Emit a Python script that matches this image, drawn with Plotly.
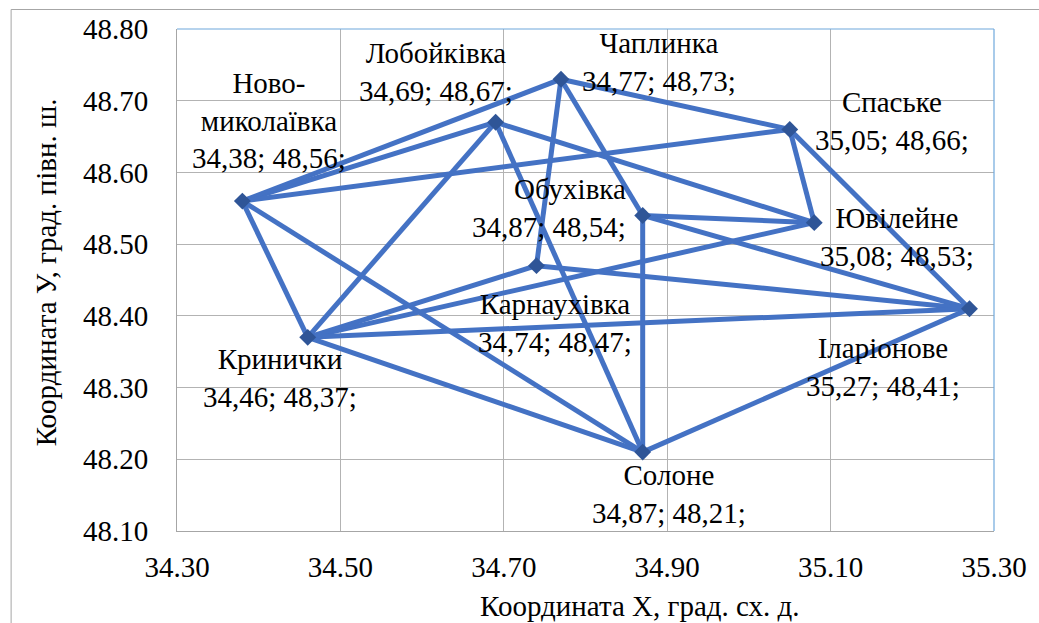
import plotly.graph_objects as go

# Settlements and their coordinates (longitude X, latitude Y)
names = ["Ново-миколаївка", "Лобойківка", "Чаплинка", "Спаське", "Обухівка",
         "Ювілейне", "Карнаухівка", "Кринички", "Іларіонове", "Солоне"]
label_names = ["Ново-<br>миколаївка", "Лобойківка", "Чаплинка", "Спаське", "Обухівка",
               "Ювілейне", "Карнаухівка", "Кринички", "Іларіонове", "Солоне"]
lon = [34.38, 34.69, 34.77, 35.05, 34.87, 35.08, 34.74, 34.46, 35.27, 34.87]
lat = [48.56, 48.67, 48.73, 48.66, 48.54, 48.53, 48.47, 48.37, 48.41, 48.21]

# Road links between settlements (pairs of names)
links = [
    ("Ново-миколаївка", "Лобойківка"),
    ("Ново-миколаївка", "Чаплинка"),
    ("Ново-миколаївка", "Спаське"),
    ("Ново-миколаївка", "Кринички"),
    ("Ново-миколаївка", "Солоне"),
    ("Лобойківка", "Кринички"),
    ("Лобойківка", "Ювілейне"),
    ("Лобойківка", "Солоне"),
    ("Чаплинка", "Спаське"),
    ("Чаплинка", "Карнаухівка"),
    ("Чаплинка", "Обухівка"),
    ("Спаське", "Ювілейне"),
    ("Спаське", "Іларіонове"),
    ("Обухівка", "Ювілейне"),
    ("Обухівка", "Іларіонове"),
    ("Обухівка", "Солоне"),
    ("Карнаухівка", "Іларіонове"),
    ("Кринички", "Ювілейне"),
    ("Кринички", "Карнаухівка"),
    ("Кринички", "Іларіонове"),
    ("Кринички", "Солоне"),
    ("Солоне", "Іларіонове"),
]

x_ticks = [34.30, 34.50, 34.70, 34.90, 35.10, 35.30]
y_ticks = [48.10, 48.20, 48.30, 48.40, 48.50, 48.60, 48.70, 48.80]

# Label placement relative to each marker, in pixels: (dx, dy, xanchor)
label_place = {
    "Ново-миколаївка": (27, 81, "center"),
    "Лобойківка": (-60, 50, "center"),
    "Чаплинка": (98, 17, "center"),
    "Спаське": (102, 8, "center"),
    "Обухівка": (-15, 7, "right"),
    "Ювілейне": (83, -14, "center"),
    "Карнаухівка": (19, -57, "center"),
    "Кринички": (-28, -41, "center"),
    "Іларіонове": (-86, -58, "center"),
    "Солоне": (26, -42, "center"),
}

FONT = "Liberation Serif"
FS = 29
LINE_BLUE = "#4472C4"
MARK_BLUE = "#2F5597"

idx = {n: i for i, n in enumerate(names)}
ex, ey = [], []
for a, b in links:
    ex += [lon[idx[a]], lon[idx[b]], None]
    ey += [lat[idx[a]], lat[idx[b]], None]

fig = go.Figure()
fig.add_trace(go.Scatter(
    x=ex, y=ey, mode="lines",
    line=dict(color=LINE_BLUE, width=5),
    hoverinfo="skip", showlegend=False,
))
fig.add_trace(go.Scatter(
    x=lon, y=lat, mode="markers",
    marker=dict(symbol="diamond", size=13, color=MARK_BLUE, line=dict(width=0)),
    text=names, showlegend=False,
))


def fmt(v):
    return f"{v:.2f}".replace(".", ",")


annotations = []
for i, n in enumerate(names):
    dx, dy, anchor = label_place[n]
    annotations.append(dict(
        x=lon[i], y=lat[i], xref="x", yref="y",
        text=f"{label_names[i]}<br>{fmt(lon[i])}; {fmt(lat[i])};",
        showarrow=False, xshift=dx, yshift=dy,
        xanchor=anchor, yanchor="middle",
        align="right" if anchor == "right" else "center",
        font=dict(family=FONT, size=FS, color="#000000"),
    ))

W, H = 1039, 623
L, R, T, B = 177, 37, 29, 92
pw, ph = W - L - R, H - T - B


def px_x(p):
    return (p - L) / pw


def px_y(p):
    return 1 - (p - T) / ph


# Axis titles
annotations.append(dict(
    x=px_x(645), y=px_y(606), xref="paper", yref="paper",
    text="Координата Х, град. сх. д.",
    showarrow=False, xanchor="center", yanchor="middle",
    font=dict(family=FONT, size=FS, color="#000000"),
))
annotations.append(dict(
    x=px_x(45), y=px_y(272), xref="paper", yref="paper",
    text="Координата У, град. півн. ш.",
    showarrow=False, xanchor="center", yanchor="middle", textangle=-90,
    font=dict(family=FONT, size=FS, color="#000000"),
))

shapes = [
    # outer chart frame
    dict(type="rect", xref="paper", yref="paper",
         x0=px_x(9.5), x1=px_x(1060), y0=px_y(700), y1=px_y(9.5),
         line=dict(color="#A6A6A6", width=1), fillcolor="rgba(0,0,0,0)", layer="below"),
    # top and right edges of the plot area
    dict(type="line", xref="paper", yref="paper", x0=0, x1=1, y0=1, y1=1,
         line=dict(color="#6FA8DC", width=1.2)),
    dict(type="line", xref="paper", yref="paper", x0=1, x1=1, y0=0, y1=1,
         line=dict(color="#6FA8DC", width=1.2)),
]

axis_common = dict(
    showgrid=True, gridcolor="#B3B3B3", gridwidth=1,
    zeroline=False, showline=True, linecolor="#A6A6A6", linewidth=1,
    ticks="", tickformat=".2f",
    tickfont=dict(family=FONT, size=FS, color="#000000"),
)

fig.update_layout(
    width=W, height=H,
    margin=dict(l=L, r=R, t=T, b=B),
    paper_bgcolor="white", plot_bgcolor="white",
    font=dict(family=FONT),
    xaxis=dict(range=[34.30, 35.30], tickvals=x_ticks, ticklabelstandoff=10, **axis_common),
    yaxis=dict(range=[48.10, 48.80], tickvals=y_ticks, ticklabelstandoff=22, **axis_common),
    annotations=annotations,
    shapes=shapes,
)

fig.write_html("out.html")
